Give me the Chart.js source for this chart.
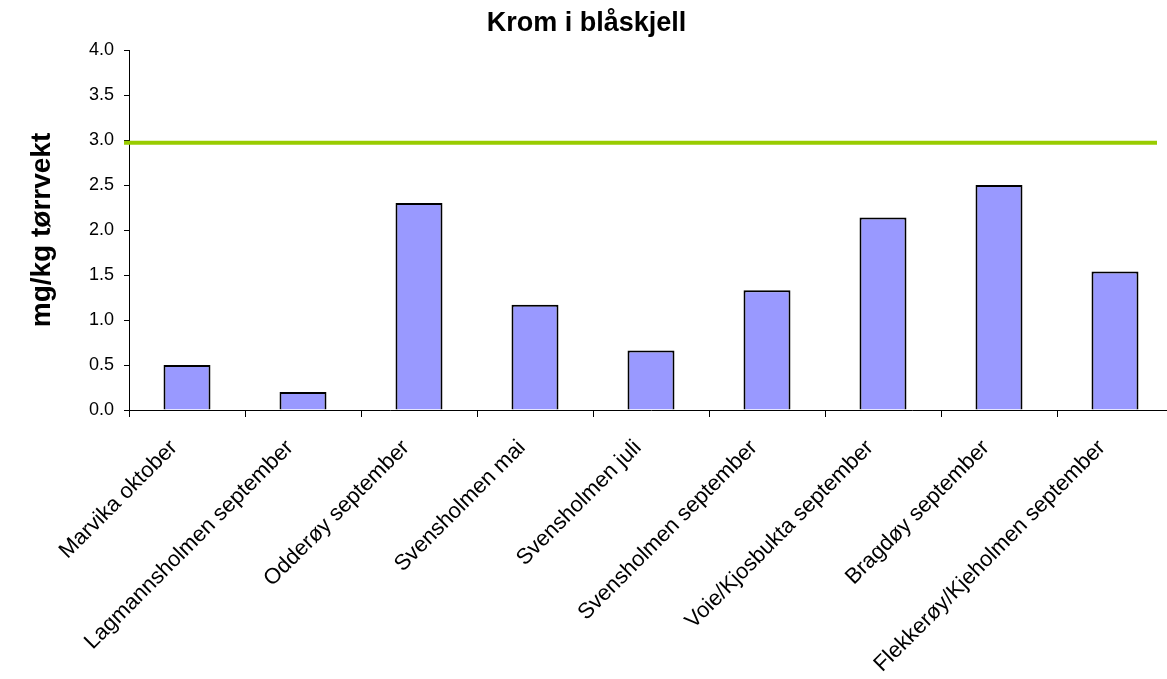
<!DOCTYPE html>
<html>
<head>
<meta charset="utf-8">
<script src="https://cdn.jsdelivr.net/npm/chart.js@4/dist/chart.umd.min.js"></script>
<style>
  html, body { margin: 0; padding: 0; background: #ffffff; overflow: hidden; }
  #wrap { width: 1180px; height: 679px; }
</style>
</head>
<body>
<div id="wrap"><canvas id="c" width="1180" height="679"></canvas></div>
<script>
const categories = [
  "Marvika oktober",
  "Lagmannsholmen september",
  "Odderøy september",
  "Svensholmen mai",
  "Svensholmen juli",
  "Svensholmen september",
  "Voie/Kjosbukta september",
  "Bragdøy september",
  "Flekkerøy/Kjeholmen september"
];
const kromValues = [0.50, 0.20, 2.30, 1.17, 0.66, 1.33, 2.14, 2.50, 1.54];
const limitValue = 2.97;
const yTicks = [0.0, 0.5, 1.0, 1.5, 2.0, 2.5, 3.0, 3.5, 4.0];
const chartTitle = "Krom i blåskjell";
const yTitle = "mg/kg tørrvekt";

const FONT = "'Liberation Sans', Arial, sans-serif";

const limitLinePlugin = {
  id: 'limitLine',
  afterDatasetsDraw(chart) {
    const y = chart.scales.y.getPixelForValue(limitValue);
    const a = chart.chartArea;
    const ctx = chart.ctx;
    ctx.save();
    ctx.strokeStyle = '#99CC00';
    ctx.lineWidth = 4;
    ctx.beginPath();
    ctx.moveTo(a.left - 5, y);
    ctx.lineTo(a.right - 16, y);
    ctx.stroke();
    ctx.restore();
  }
};

new Chart(document.getElementById('c'), {
  type: 'bar',
  data: {
    labels: categories,
    datasets: [{
      label: 'Krom',
      data: kromValues,
      backgroundColor: '#9999FF',
      borderColor: '#000000',
      borderWidth: 2,
      categoryPercentage: 1.0,
      barPercentage: 0.405
    }]
  },
  options: {
    responsive: false,
    devicePixelRatio: 1,
    animation: false,
    layout: { padding: { left: 0, right: 7, top: 0, bottom: 0 } },
    plugins: {
      legend: { display: false },
      tooltip: { enabled: false },
      title: {
        display: true,
        text: chartTitle,
        color: '#000000',
        font: { family: FONT, size: 27, weight: 'bold' },
        padding: { top: 7, bottom: 10.6 }
      }
    },
    scales: {
      x: {
        offset: true,
        grid: {
          offset: true,
          drawOnChartArea: false,
          drawTicks: true,
          tickLength: 7,
          color: '#000000'
        },
        border: { display: true, color: '#000000', width: 1 },
        ticks: {
          color: '#000000',
          font: { family: FONT, size: 22 },
          maxRotation: 45,
          minRotation: 45,
          autoSkip: false,
          padding: 18,
          labelOffset: -13
        },
        afterFit(scale) { scale.height = 269; }
      },
      y: {
        min: 0,
        max: 4,
        afterBuildTicks(scale) { scale.ticks = yTicks.map(v => ({ value: v })); },
        grid: {
          drawOnChartArea: false,
          drawTicks: true,
          tickLength: 5,
          color: '#000000'
        },
        border: { display: true, color: '#000000', width: 1 },
        ticks: {
          color: '#000000',
          font: { family: FONT, size: 18 },
          padding: 10,
          callback: (v) => Number(v).toFixed(1)
        },
        title: {
          display: true,
          text: yTitle,
          color: '#000000',
          font: { family: FONT, size: 28, weight: 'bold' },
          padding: { top: 25, bottom: 0 }
        },
        afterFit(scale) { scale.width = 129; }
      }
    }
  },
  plugins: [limitLinePlugin]
});
</script>
</body>
</html>
